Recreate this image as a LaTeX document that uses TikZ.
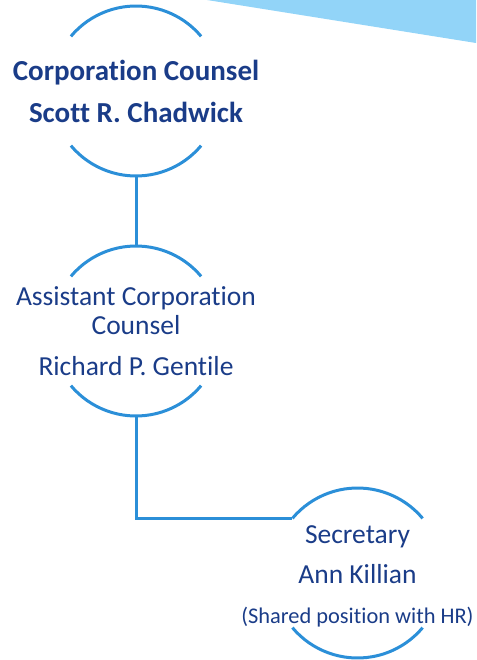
\documentclass[tikz,border=0pt]{standalone}
\usepackage{fontspec}
\setmainfont{Carlito}[Ligatures=NoCommon]
\definecolor{ringblue}{HTML}{2B8FD8}
\definecolor{namenavy}{HTML}{1A3C88}
\definecolor{skyblue}{HTML}{92D4F8}
\begin{document}
\begin{tikzpicture}[x=1pt,y=1pt,
        ring/.style={circle,minimum size=170pt,inner sep=0pt,outer sep=0pt},
        link/.style={ringblue,line width=3pt},
        title/.style={namenavy,align=center,inner sep=0pt}]
            \useasboundingbox (0,0) rectangle (476,-660);
            \fill[skyblue] (207,0) -- (476,0) -- (476,-43) -- cycle;
            \node[ring] (cc) at (136,-91) {};
            \node[ring] (acc) at (136,-331) {};
            \node[ring] (sec) at (357.5,-573) {};
            \node[title,font=\bfseries\fontsize{29}{42}\selectfont] (ccname) at (cc) {Corporation Counsel\\Scott R. Chadwick};
            \node[title,font=\fontsize{27.5}{29}\selectfont] (accname) at (acc) {Assistant Corporation\\Counsel\\[12pt]Richard P. Gentile};
            \node[title,font=\fontsize{27.5}{40}\selectfont] (secname) at ([yshift=-3pt]sec.center) {Secretary\\Ann Killian\\{\fontsize{22.4}{37}\selectfont (Shared position with HR)}};
            \draw[link] (cc.140) arc[start angle=140,end angle=40,radius=85pt];
            \draw[link] (cc.220) arc[start angle=220,end angle=320,radius=85pt];
            \draw[link] (acc.140) arc[start angle=140,end angle=40,radius=85pt];
            \draw[link] (acc.220) arc[start angle=220,end angle=320,radius=85pt];
            \draw[link] (sec.140) arc[start angle=140,end angle=40,radius=85pt];
            \draw[link] (sec.220) arc[start angle=220,end angle=320,radius=85pt];
            \draw[link] (cc.south) -- (acc.north);
            \draw[link] (acc.south) |- (sec.140);
        \end{tikzpicture}
\end{document}
